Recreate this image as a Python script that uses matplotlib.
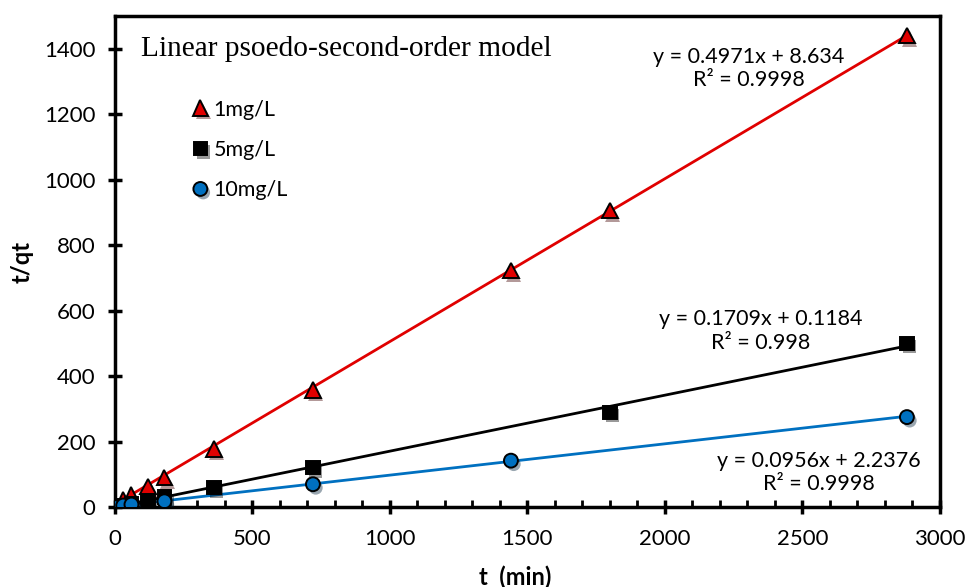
import numpy as np
import matplotlib
matplotlib.use("Agg")
import matplotlib.pyplot as plt
import matplotlib.patheffects as pe
from matplotlib.ticker import MultipleLocator

# data (t in min, t/qt)
t_1 = [0, 30, 60, 120, 180, 360, 720, 1440, 1800, 2880]
y_1 = [0, 24, 37, 62, 90, 178, 358, 722, 905, 1440]
t_5 = [0, 30, 60, 120, 180, 360, 720, 1800, 2880]
y_5 = [0, 6, 11, 20, 31, 60, 120, 290, 500]
t_10 = [0, 30, 60, 180, 720, 1440, 2880]
y_10 = [0, 5, 8, 18, 70, 142, 275]

# trendline coefficients (slope, intercept, r2)
fit_1 = (0.4971, 8.634, 0.9998)
fit_5 = (0.1709, 0.1184, 0.998)
fit_10 = (0.0956, 2.2376, 0.9998)

labels = ["1mg/L", "5mg/L", "10mg/L"]

SANS = ['Lato', 'DejaVu Sans']
plt.rcParams['font.family'] = SANS

fig = plt.figure(figsize=(9.66, 5.87), dpi=100)
ax = fig.add_axes([0.119, 0.136, 0.854, 0.837])

shadow = [pe.SimplePatchShadow(offset=(2, -2.5), alpha=0.4), pe.Normal()]

series = [
	(t_1, y_1, fit_1, "#e00000", "^", 11),
	(t_5, y_5, fit_5, "black", "s", 9.5),
	(t_10, y_10, fit_10, "#0070c0", "o", 10),
]
for (tt, yy, fit, col, mk, ms), lab in zip(series, labels):
	xs = np.array([min(tt), max(tt)])
	ax.plot(xs, fit[0]*xs + fit[1], color=col, lw=2, zorder=2)
	ax.plot(tt, yy, ls="none", marker=mk, ms=ms, mfc=col,
		mec="black", mew=1.4, label=lab, zorder=3, path_effects=shadow)

def eq_text(x, y, fit):
	s = "y = %sx + %s\nR² = %s" % (fit[0], fit[1], fit[2])
	ax.text(x, y, s, ha="center", va="center", fontsize=15.5, linespacing=1.2)

eq_text(2304, 1340, fit_1)
eq_text(2348, 538, fit_5)
eq_text(2559, 105, fit_10)

ax.text(95, 1400, "Linear psoedo-second-order model", fontsize=21.2,
	family="Liberation Serif", va="center")

leg = ax.legend(loc="upper left", bbox_to_anchor=(0.067, 0.869), frameon=False,
	handletextpad=0.1, labelspacing=0.95, handlelength=1.0,
	prop={'family': SANS, 'size': 15.5})

ax.set_xlim(0, 3000)
ax.set_ylim(0, 1500)
ax.xaxis.set_major_locator(MultipleLocator(500))
ax.xaxis.set_minor_locator(MultipleLocator(100))
ax.set_yticks(range(0, 1401, 200))
for sp in ax.spines.values():
	sp.set_linewidth(2.5)
ax.tick_params(axis="x", which="major", direction="inout", length=10, width=2.5, labelsize=16, pad=11)
ax.tick_params(axis="x", which="minor", direction="in", length=5, width=2)
ax.tick_params(axis="y", which="major", direction="inout", length=10, width=2.5, labelsize=16, pad=9)

ax.set_xlabel("t  (min)", fontsize=17, fontweight="bold")
ax.xaxis.set_label_coords(0.485, -0.118)
ax.set_ylabel("t/qt", fontsize=17, fontweight="bold")
ax.yaxis.set_label_coords(-0.098, 0.5)

fig.savefig("out.png", dpi=100)
